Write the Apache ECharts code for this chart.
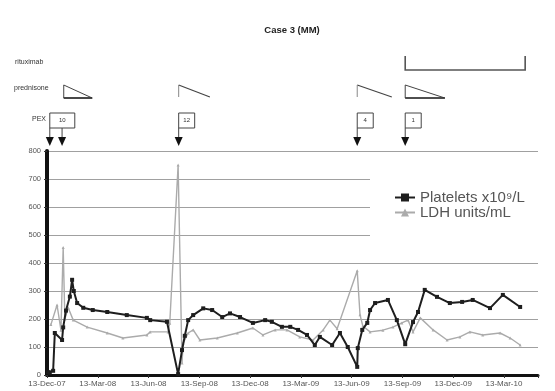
<!DOCTYPE html>
<html><head><meta charset="utf-8">
<script src="https://cdn.jsdelivr.net/npm/echarts@6/dist/echarts.min.js"></script>
<style>html,body{margin:0;padding:0;background:#fff}#c{width:555px;height:391px}</style>
</head><body><div id="c"></div>
<script>
// X axis: days since 13-Dec-07; one label every quarter (~91 days)
const xTickLabels = ['13-Dec-07','13-Mar-08','13-Jun-08','13-Sep-08','13-Dec-08','13-Mar-09','13-Jun-09','13-Sep-09','13-Dec-09','13-Mar-10'];
const xTickStep = 91;

const plateletDays = [2,5,11,14,27,29,34,41,45,48,54,65,82,108,143,179,185,215,235,242,247,253,262,280,296,314,328,346,369,391,403,421,436,450,466,480,489,511,525,539,556,557,565,574,579,588,611,627,642,656,665,677,699,722,744,763,794,817,848];
const plateletValues = [10,8,15,150,125,170,230,280,340,300,257,240,232,225,214,204,196,190,3,89,140,196,214,238,232,207,220,207,186,196,190,172,172,161,143,107,136,107,150,100,29,96,161,186,232,257,268,196,110,189,225,304,279,257,261,268,239,286,243];

const ldhDays = [7,18,25,29,32,38,47,72,108,136,179,185,217,220,235,242,244,253,262,274,305,341,369,387,409,430,453,477,495,507,520,556,561,566,579,602,620,636,647,656,669,692,717,740,758,781,812,830,848];
const ldhValues = [180,250,160,455,200,240,196,171,150,132,143,154,154,185,750,43,114,150,161,125,132,150,168,143,161,161,136,125,161,196,165,372,215,175,154,160,171,186,196,154,204,161,125,136,154,143,150,132,107];

// Treatment annotations (days)
const pexStartDays = [5, 236, 556, 642];
const pexCounts = ['10', '12', '4', '1'];
const pexExtraArrowDays = [27];
const predTaperDays = [[30, 81], [642, 713]];
const predLineDays = [[236, 292], [556, 618]];
const rituxDays = [642, 857];
const rowLabels = ['rituximab', 'prednisone', 'PEX'];

const chart = echarts.init(document.getElementById('c'), null, {renderer: 'canvas'});
const FONT = 'Liberation Sans, Arial, sans-serif';
chart.setOption({
  animation: false,
  backgroundColor: '#fff',
  textStyle: {fontFamily: FONT},
  title: {text: 'Case 3 (MM)', left: 287, top: 20, textAlign: 'center',
    textStyle: {fontSize: 9.5, fontWeight: 'bold', color: '#222', fontFamily: FONT}},
  grid: {left: 47, right: 17, top: 151, bottom: 16, containLabel: false, outerBoundsMode: 'none'},
  legend: {
    orient: 'vertical', left: 370, top: 170, itemGap: 0,
    padding: [20, 22, 30, 24], backgroundColor: '#fff',
    itemWidth: 20, itemHeight: 10,
    textStyle: {fontSize: 15, color: '#555', fontFamily: FONT},
    data: ['Platelets x10\u2079/L', 'LDH units/mL']
  },
  xAxis: {
    type: 'value', min: 0, max: 880, interval: xTickStep,
    axisLine: {lineStyle: {color: '#111', width: 3}},
    axisTick: {show: true, length: 3, lineStyle: {color: '#333'}},
    splitLine: {show: false},
    axisLabel: {fontSize: 8, color: '#555', margin: 5,
      formatter: v => xTickLabels[Math.round(v / xTickStep)] || ''}
  },
  yAxis: {
    type: 'value', min: 0, max: 800, interval: 100,
    axisLine: {show: true, lineStyle: {color: '#111', width: 4}},
    axisTick: {show: true, length: 3, lineStyle: {color: '#333'}},
    splitLine: {lineStyle: {color: '#a0a0a0', width: 1}},
    axisLabel: {fontSize: 7.5, color: '#555', margin: 6}
  },
  series: [
    {name: 'Platelets x10\u2079/L', type: 'line', z: 3,
      data: plateletDays.map((d, i) => [d, plateletValues[i]]),
      symbol: 'rect', symbolSize: 4, showSymbol: true,
      lineStyle: {color: '#1e1e1e', width: 2}, itemStyle: {color: '#1e1e1e'}},
    {name: 'LDH units/mL', type: 'line', z: 2,
      data: ldhDays.map((d, i) => [d, ldhValues[i]]),
      symbol: 'triangle', symbolSize: 3, showSymbol: true,
      lineStyle: {color: '#ababab', width: 1.4}, itemStyle: {color: '#ababab'}}
  ]
});

const px = d => chart.convertToPixel({xAxisIndex: 0}, d);
const g = [];
const stroke = (c, w) => ({stroke: c, lineWidth: w, fill: null});
// row labels
g.push({type: 'text', x: 15, y: 59, style: {text: rowLabels[0], fill: '#333', font: '7px ' + FONT}});
g.push({type: 'text', x: 14, y: 85, style: {text: rowLabels[1], fill: '#333', font: '7px ' + FONT}});
g.push({type: 'text', x: 46, y: 116, style: {text: rowLabels[2], align: 'right', fill: '#333', font: '7px ' + FONT}});
// rituximab bracket
{
  const a = px(rituxDays[0]), b = px(rituxDays[1]);
  g.push({type: 'polyline', shape: {points: [[a, 56], [a, 70], [b, 70], [b, 56]]}, style: stroke('#555', 1.6)});
}
// prednisone tapers
predTaperDays.forEach(([s, e]) => {
  const a = px(s), b = px(e);
  g.push({type: 'polygon', shape: {points: [[a, 85], [b, 98], [a, 98]]}, style: stroke('#444', 1)});
  g.push({type: 'line', shape: {x1: a, y1: 98, x2: b, y2: 98}, style: stroke('#333', 1.6)});
});
predLineDays.forEach(([s, e]) => {
  const a = px(s), b = px(e);
  g.push({type: 'line', shape: {x1: a, y1: 85, x2: b, y2: 97}, style: stroke('#444', 1.2)});
  g.push({type: 'line', shape: {x1: a, y1: 85, x2: a, y2: 97}, style: stroke('#888', 1)});
});
// plasma exchange boxes and arrows
const arrow = x => g.push({type: 'polygon', shape: {points: [[x - 4, 137], [x + 4, 137], [x, 146]]}, style: {fill: '#111'}});
pexStartDays.forEach((d, i) => {
  const x = px(d);
  const w = i === 0 ? 25 : 16;
  g.push({type: 'polyline', shape: {points: [[x, 140], [x, 113], [x + w, 113], [x + w, 128], [x, 128]]}, style: stroke('#444', 1)});
  g.push({type: 'text', x: x + w / 2, y: 117, style: {text: pexCounts[i], align: 'center', fill: '#333', font: '6px ' + FONT}});
  arrow(x);
});
pexExtraArrowDays.forEach(d => {
  const x = px(d);
  g.push({type: 'line', shape: {x1: x, y1: 128, x2: x, y2: 140}, style: stroke('#444', 1)});
  arrow(x);
});
chart.setOption({graphic: g});
</script></body></html>
